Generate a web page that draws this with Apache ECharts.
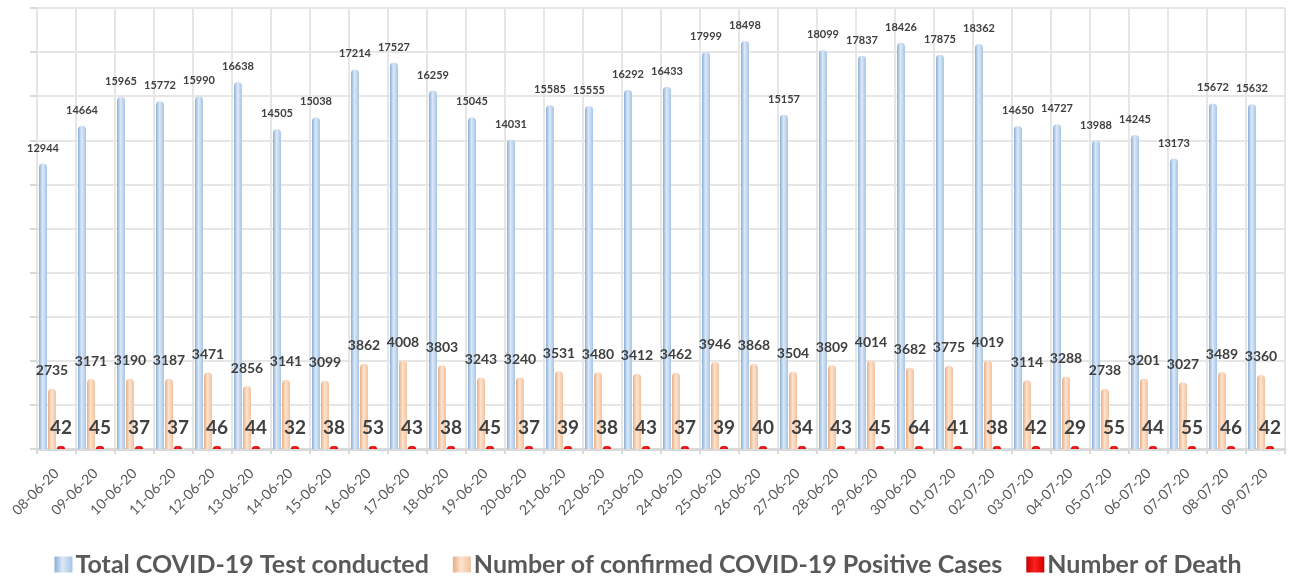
<!DOCTYPE html>
<html>
<head>
<meta charset="utf-8">
<title>COVID-19 tests</title>
<script src="https://cdn.jsdelivr.net/npm/echarts@6/dist/echarts.min.js"></script>
<style>
  html, body { margin: 0; padding: 0; background: #fff; }
  #chart { width: 1296px; height: 577px; }
</style>
</head>
<body>
<div id="chart"></div>
<script>
const dates = ['08-06-20', '09-06-20', '10-06-20', '11-06-20', '12-06-20', '13-06-20', '14-06-20', '15-06-20',
  '16-06-20', '17-06-20', '18-06-20', '19-06-20', '20-06-20', '21-06-20', '22-06-20', '23-06-20',
  '24-06-20', '25-06-20', '26-06-20', '27-06-20', '28-06-20', '29-06-20', '30-06-20', '01-07-20',
  '02-07-20', '03-07-20', '04-07-20', '05-07-20', '06-07-20', '07-07-20', '08-07-20', '09-07-20'];

const tests = [12944, 14664, 15965, 15772, 15990, 16638, 14505, 15038, 17214, 17527, 16259, 15045, 14031, 15585, 15555, 16292,
  16433, 17999, 18498, 15157, 18099, 17837, 18426, 17875, 18362, 14650, 14727, 13988, 14245, 13173, 15672, 15632];

const confirmed = [2735, 3171, 3190, 3187, 3471, 2856, 3141, 3099, 3862, 4008, 3803, 3243, 3240, 3531, 3480, 3412,
  3462, 3946, 3868, 3504, 3809, 4014, 3682, 3775, 4019, 3114, 3288, 2738, 3201, 3027, 3489, 3360];

const deaths = [42, 45, 37, 37, 46, 44, 32, 38, 53, 43, 38, 45, 37, 39, 38, 43,
  37, 39, 40, 34, 43, 45, 64, 41, 38, 42, 29, 55, 44, 55, 46, 42];

const seriesNames = ['Total COVID-19 Test conducted', 'Number of confirmed COVID-19 Positive Cases', 'Number of Death'];

const FONT = 'Lato';

// cylinder look: horizontal gradient, lighter in the middle
function tube(edge, mid, edge2) {
  return new echarts.graphic.LinearGradient(0, 0, 1, 0, [
    { offset: 0, color: edge },
    { offset: 0.45, color: mid },
    { offset: 1, color: edge2 }
  ]);
}

function labelStyle(size, distance) {
  return {
    show: true,
    position: 'top',
    distance: distance,
    fontFamily: FONT,
    fontWeight: 'bold',
    fontSize: size,
    color: '#404040'
  };
}

const chart = echarts.init(document.getElementById('chart'), null, { renderer: 'canvas' });

var option = {
  backgroundColor: '#fff',
  animation: false,
  grid: {
    left: 37,
    right: 11,
    top: 8,
    bottom: 128
  },
  legend: {
    data: seriesNames,
    top: 547,
    left: 'center',
    itemWidth: 18,
    itemHeight: 16,
    itemGap: 24,
    icon: 'rect',
    textStyle: {
      fontFamily: FONT,
      fontWeight: 'bold',
      fontSize: 25,
      color: '#595959',
      padding: [0, 0, 0, -2]
    }
  },
  xAxis: {
    type: 'category',
    data: dates,
    axisLine: { lineStyle: { color: '#d9d9d9', width: 3 } },
    axisTick: { show: true, length: 5, lineStyle: { color: '#d9d9d9', width: 2 } },
    splitLine: { show: true, lineStyle: { color: '#e6e6e6', width: 2 } },
    axisLabel: {
      interval: 0,
      rotate: 45,
      margin: 22,
      fontFamily: FONT,
      fontSize: 14,
      color: '#595959'
    }
  },
  yAxis: {
    type: 'value',
    min: 0,
    max: 20000,
    interval: 2000,
    axisLine: { show: false },
    axisTick: { show: true, length: 7, lineStyle: { color: '#d9d9d9', width: 2 } },
    axisLabel: { show: false },
    splitLine: { lineStyle: { color: '#e6e6e6', width: 2 } }
  },
  series: [
    {
      name: seriesNames[0],
      type: 'bar',
      barWidth: 8,
      barGap: '12.5%',
      data: tests,
      itemStyle: {
        color: tube('#8aafd8', '#dce9f7', '#a6c5e6'),
        borderRadius: [4, 4, 0, 0]
      },
      label: labelStyle(11, 10)
    },
    {
      name: seriesNames[1],
      type: 'bar',
      barWidth: 8,
      data: confirmed,
      itemStyle: {
        color: tube('#e6ad84', '#fde3cf', '#f2c29e'),
        borderRadius: [4, 4, 0, 0]
      },
      label: labelStyle(14, 11)
    },
    {
      name: seriesNames[2],
      type: 'bar',
      barWidth: 8,
      barMinHeight: 3,
      data: deaths,
      itemStyle: {
        color: tube('#c00000', '#ff2020', '#d00000'),
        borderRadius: [3, 3, 0, 0]
      },
      label: labelStyle(19, 9)
    },
    {
      // empty slot so the three real bars sit left of the category centre
      name: 'pad',
      type: 'bar',
      barWidth: 8,
      silent: true,
      data: dates.map(() => '-')
    }
  ]
};

chart.setOption(option);
</script>
</body>
</html>
